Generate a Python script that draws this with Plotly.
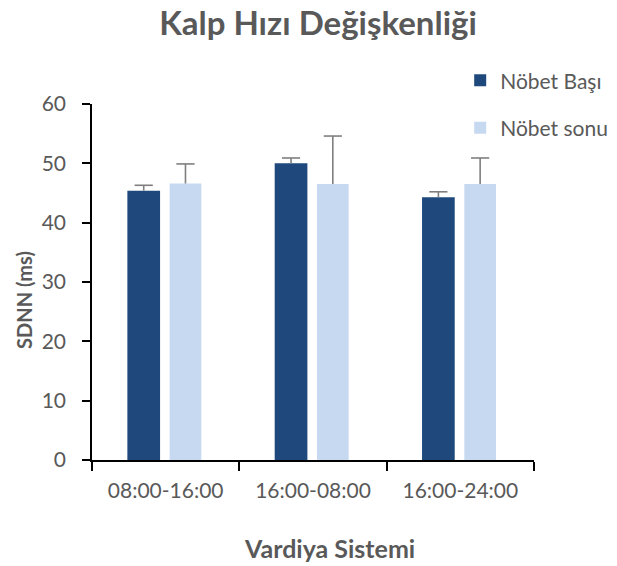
import plotly.graph_objects as go

categories = ["08:00-16:00", "16:00-08:00", "16:00-24:00"]
series_names = ["Nöbet Başı", "Nöbet sonu"]
basi_values = [45.4, 50.0, 44.3]
basi_errors = [0.9, 0.9, 0.9]
sonu_values = [46.6, 46.5, 46.5]
sonu_errors = [3.3, 8.1, 4.4]
y_ticks = [0, 10, 20, 30, 40, 50, 60]

FONT = "Lato"
GRAY = "#595959"
ERR = "#7F7F7F"
colors = ["#1F497D", "#C6D9F1"]
offsets = [-0.26, 0.027]
widths = [0.222, 0.215]

idx = list(range(len(categories)))
fig = go.Figure()
for k, (vals, errs) in enumerate([(basi_values, basi_errors), (sonu_values, sonu_errors)]):
    fig.add_trace(go.Bar(
        x=idx, y=vals, name=series_names[k], legendgroup=f"g{k}",
        offset=offsets[k], width=widths[k],
        marker=dict(color=colors[k], line=dict(width=0)),
        error_y=dict(type="data", array=errs, symmetric=False, arrayminus=[0] * len(errs),
                     color=ERR, thickness=1.6, width=0),
    ))
for k, (vals, errs) in enumerate([(basi_values, basi_errors), (sonu_values, sonu_errors)]):
    fig.add_trace(go.Scatter(
        x=[i + offsets[k] + widths[k] / 2 for i in idx],
        y=[v + e for v, e in zip(vals, errs)],
        mode="markers", showlegend=False, hoverinfo="skip",
        marker=dict(symbol="line-ew", size=13, line=dict(color=ERR, width=1.6)),
    ))

# Page body has an 8px margin: shift everything up/left by 8px
W, H = 617, 566
L, T, PW, PH = 84, 96, 448, 356
fig.update_layout(
    width=W, height=H,
    margin=dict(l=L, r=W - L - PW, t=T, b=H - T - PH),
    paper_bgcolor="white", plot_bgcolor="white",
    barmode="overlay",
    font=dict(family=FONT, color=GRAY, size=21),
    title=dict(text="<b>Kalp Hızı Değişkenliği</b>", x=310 / W, xanchor="center",
               y=1 - 4 / H, yanchor="top",
               font=dict(family=FONT, size=33, color=GRAY)),
    showlegend=True,
    legend=dict(x=0.833, y=1.123, xanchor="left", yanchor="top",
                traceorder="grouped", tracegroupgap=17,
                font=dict(family=FONT, size=21, color=GRAY),
                bgcolor="rgba(0,0,0,0)", itemwidth=30),
    xaxis=dict(
        range=[-0.5, 2.5], tickvals=idx, ticktext=categories, ticks="",
        showline=True, linecolor="#000000", linewidth=1.5,
        minor=dict(tickvals=[-0.5, 0.5, 1.5, 2.5], ticks="outside", ticklen=9,
                   tickcolor="#000000", tickwidth=1.5, showgrid=False),
        tickfont=dict(family=FONT, size=21, color=GRAY),
        ticklabelstandoff=11,
        showgrid=False, zeroline=False,
    ),
    yaxis=dict(
        range=[0, 60], tickvals=y_ticks, showline=True, linecolor="#000000", linewidth=1.5,
        ticks="outside", ticklen=8, tickcolor="#000000", tickwidth=1.5,
        tickfont=dict(family=FONT, size=21, color=GRAY),
        ticklabelstandoff=12,
        showgrid=False, zeroline=False,
    ),
    annotations=[
        dict(text="<b>SDNN (ms)</b>", xref="paper", yref="paper",
             x=(15 - L) / PW, y=(T + PH - 292) / PH,
             textangle=-90, showarrow=False, xanchor="center", yanchor="middle",
             font=dict(family=FONT, size=20, color=GRAY)),
        dict(text="<b>Vardiya Sistemi</b>", xref="paper", yref="paper",
             x=(325 - L) / PW, y=-(540 - T - PH) / PH,
             showarrow=False, xanchor="center", yanchor="middle",
             font=dict(family=FONT, size=25, color=GRAY)),
    ],
)

fig.write_html("out.html")
